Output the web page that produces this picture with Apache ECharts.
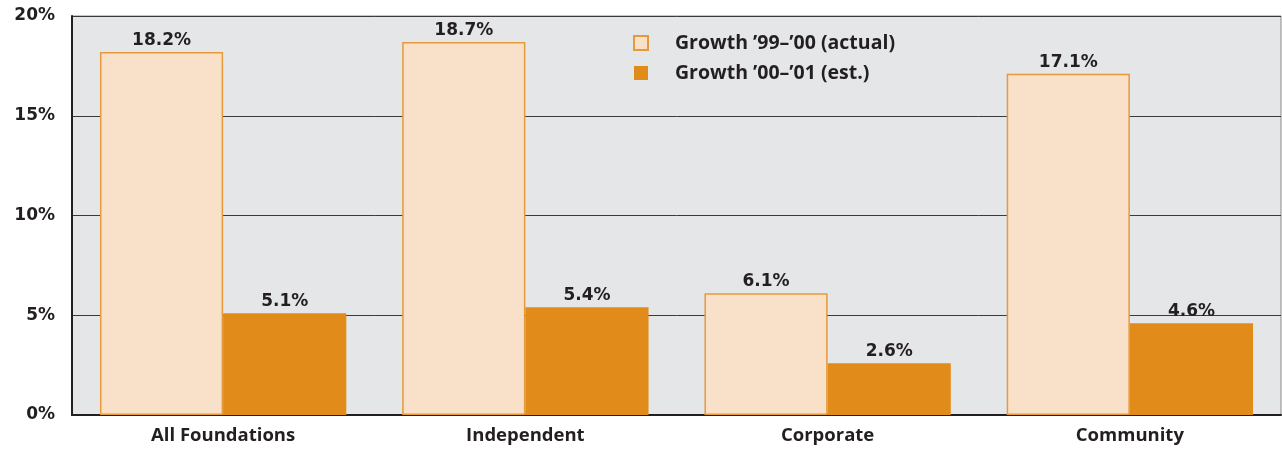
<!DOCTYPE html>
<html>
<head>
<meta charset="utf-8">
<script src="https://cdn.jsdelivr.net/npm/echarts@6/dist/echarts.min.js"></script>
<style>
  html, body { margin: 0; padding: 0; background: #fff; }
  #chart { width: 1282px; height: 449px; }
</style>
</head>
<body>
<div id="chart"></div>
<script>
// 类目与数据
var categories = ['All Foundations', 'Independent', 'Corporate', 'Community'];
var actualGrowth = [18.2, 18.7, 6.1, 17.1];
var estGrowth = [5.1, 5.4, 2.6, 4.6];
var seriesNames = ['Growth \u201999\u2013\u201900 (actual)', 'Growth \u201900\u2013\u201901 (est.)'];

var textFont = '"Open Sans", sans-serif';
var numFont = '"DejaVu Sans", sans-serif';
var inkColor = '#231f20';

// 数值标签样式
var valueLabel = {
    show: true,
    position: 'top',
    distance: 3,
    formatter: '{c}%',
    fontFamily: numFont,
    fontSize: 17,
    fontWeight: 'bold',
    color: inkColor
};

var myChart = echarts.init(document.getElementById('chart'));

myChart.setOption({
    animation: false,
    grid: {
        left: 72,
        right: 1,
        top: 16,
        bottom: 34,
        show: true,
        backgroundColor: '#e5e6e8',
        borderColor: '#8a8a8a',
        borderWidth: 1
    },
    legend: {
        left: 628,
        top: 28,
        orient: 'vertical',
        itemWidth: 14,
        itemHeight: 14,
        itemGap: 10,
        icon: 'rect',
        textStyle: {
            fontFamily: textFont,
            fontSize: 19.5,
            fontWeight: 'bold',
            color: inkColor,
            padding: [0, 0, 0, 22]
        },
        data: seriesNames
    },
    xAxis: {
        type: 'category',
        data: categories,
        axisLine: { lineStyle: { color: inkColor, width: 2 } },
        axisTick: { show: false },
        axisLabel: {
            fontFamily: textFont,
            fontSize: 18.5,
            fontWeight: 'bold',
            color: inkColor,
            margin: 11
        }
    },
    yAxis: {
        type: 'value',
        min: 0,
        max: 20,
        interval: 5,
        axisLine: { show: true, lineStyle: { color: inkColor, width: 2 } },
        axisTick: { show: false },
        splitLine: { lineStyle: { color: '#3a3a3a', width: 1 } },
        axisLabel: {
            formatter: '{value}%',
            fontFamily: numFont,
            fontSize: 17,
            fontWeight: 'bold',
            color: inkColor,
            margin: 17,
            padding: [2, 0, 0, 0]
        }
    },
    series: [
        {
            name: seriesNames[0],
            type: 'bar',
            data: actualGrowth,
            barGap: '0%',
            barCategoryGap: '18.5%',
            itemStyle: {
                color: '#f8e1c8',
                borderColor: '#e59a3c',
                borderWidth: 1.5
            },
            label: valueLabel
        },
        {
            name: seriesNames[1],
            type: 'bar',
            data: estGrowth,
            itemStyle: {
                color: '#e08b1a'
            },
            label: valueLabel
        }
    ]
});
</script>
</body>
</html>
